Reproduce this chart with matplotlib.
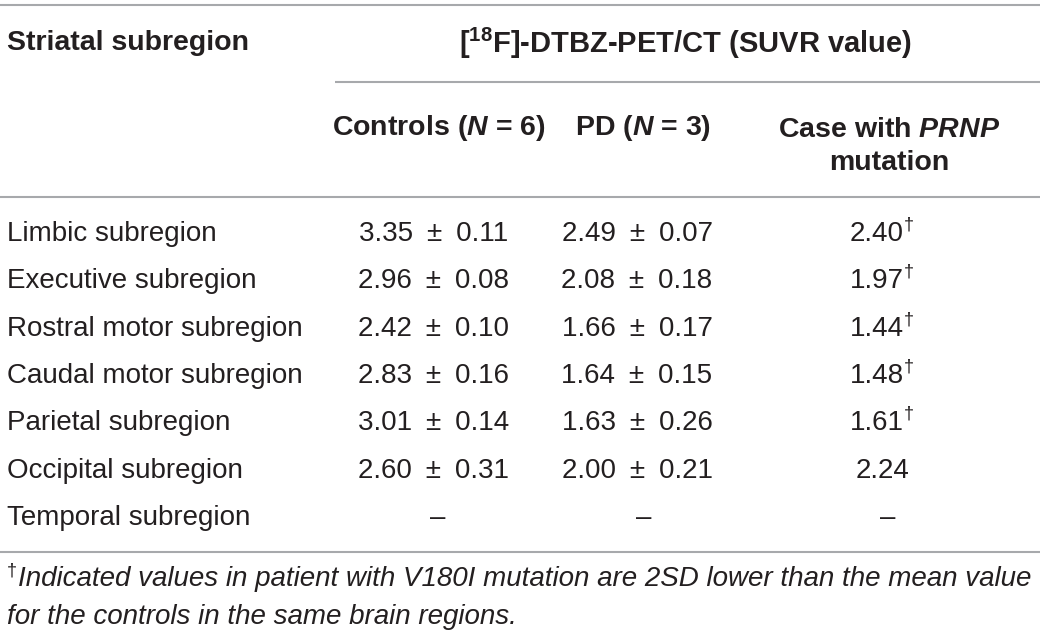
import matplotlib
matplotlib.use("Agg")
import matplotlib.pyplot as plt

plt.rcParams["font.family"] = ["Liberation Sans", "DejaVu Sans"]
plt.rcParams["mathtext.fontset"] = "custom"
plt.rcParams["mathtext.rm"] = "Liberation Sans"
plt.rcParams["mathtext.it"] = "Liberation Sans:italic"
plt.rcParams["mathtext.bf"] = "Liberation Sans:bold"
plt.rcParams["mathtext.bfit"] = "Liberation Sans:bold:italic"

# table data
regions = ["Limbic subregion", "Executive subregion", "Rostral motor subregion",
           "Caudal motor subregion", "Parietal subregion", "Occipital subregion",
           "Temporal subregion"]
controls_mean = [3.35, 2.96, 2.42, 2.83, 3.01, 2.60, None]
controls_sd = [0.11, 0.08, 0.10, 0.16, 0.14, 0.31, None]
pd_mean = [2.49, 2.08, 1.66, 1.64, 1.63, 2.00, None]
pd_sd = [0.07, 0.18, 0.17, 0.15, 0.26, 0.21, None]
case_val = [2.40, 1.97, 1.44, 1.48, 1.61, 2.24, None]
case_flag = [True, True, True, True, True, False, False]

header_left = "Striatal subregion"
header_span = r"[$^{\mathbf{18}}$F]-DTBZ-PET/CT (SUVR value)"
col_heads = [r"Controls ($\mathbfit{N}$ = 6)", r"PD ($\mathbfit{N}$ = 3)",
             r"Case with $\mathbfit{PRNP}$" + "\nmutation"]
footnote = ["Indicated values in patient with V180I mutation are 2SD lower than the mean value",
            "for the controls in the same brain regions."]

txt = "#231f20"
rule = "#a7a9ac"
fs_head = 20.5
fs_body = 20
fs_note = 20

fig = plt.figure(figsize=(10.4, 6.44), dpi=100)
ax = fig.add_axes([0, 0, 1, 1])
ax.set_xlim(0, 1040)
ax.set_ylim(644, 0)
ax.axis("off")

# rules
ax.hlines([5, 197, 552], 0, 1040, color=rule, lw=1.5)
ax.hlines(82, 335, 1040, color=rule, lw=1.5)

# header
ax.text(7, 43, header_left, fontsize=fs_head, fontweight="bold", color=txt, va="center")
ax.text(686, 43, header_span, fontsize=21, fontweight="bold", color=txt,
        va="center", ha="center")
col_x = [439, 643, 889]
ax.text(col_x[0], 128, col_heads[0], fontsize=fs_head, fontweight="bold", color=txt,
        va="center", ha="center")
ax.text(col_x[1], 128, col_heads[1], fontsize=fs_head, fontweight="bold", color=txt,
        va="center", ha="center")
ax.text(col_x[2], 146, col_heads[2], fontsize=fs_head, fontweight="bold", color=txt,
        va="center", ha="center", linespacing=1.35)

# body rows
data_x = [434, 637, 883]
dash_x = [438, 644, 888]
row_y0, row_dy = 234, 47.3
sp = "\u2002"
for i, name in enumerate(regions):
    y = row_y0 + i * row_dy
    ax.text(7, y, name, fontsize=fs_body, color=txt, va="center")
    if controls_mean[i] is None:
        for cx in dash_x:
            ax.text(cx, y, "–", fontsize=fs_body, color=txt, va="center", ha="center")
        continue
    ax.text(data_x[0], y, f"{controls_mean[i]:.2f}{sp}±{sp}{controls_sd[i]:.2f}",
            fontsize=fs_body, color=txt, va="center", ha="center")
    ax.text(data_x[1], y, f"{pd_mean[i]:.2f}{sp}±{sp}{pd_sd[i]:.2f}",
            fontsize=fs_body, color=txt, va="center", ha="center")
    cx = data_x[2] - 6 if case_flag[i] else data_x[2]
    ax.text(cx, y, f"{case_val[i]:.2f}", fontsize=fs_body, color=txt,
            va="center", ha="center")
    if case_flag[i]:
        ax.text(cx + 27, y - 9, "†", fontsize=13, color=txt,
                va="center", ha="left")

# footnote
ax.text(7, 571, "†", fontsize=13, color=txt, va="center")
ax.text(18, 579, footnote[0], fontsize=fs_note, style="italic", color=txt, va="center")
ax.text(7, 617, footnote[1], fontsize=fs_note, style="italic", color=txt, va="center")

fig.savefig("out.png", dpi=100)
